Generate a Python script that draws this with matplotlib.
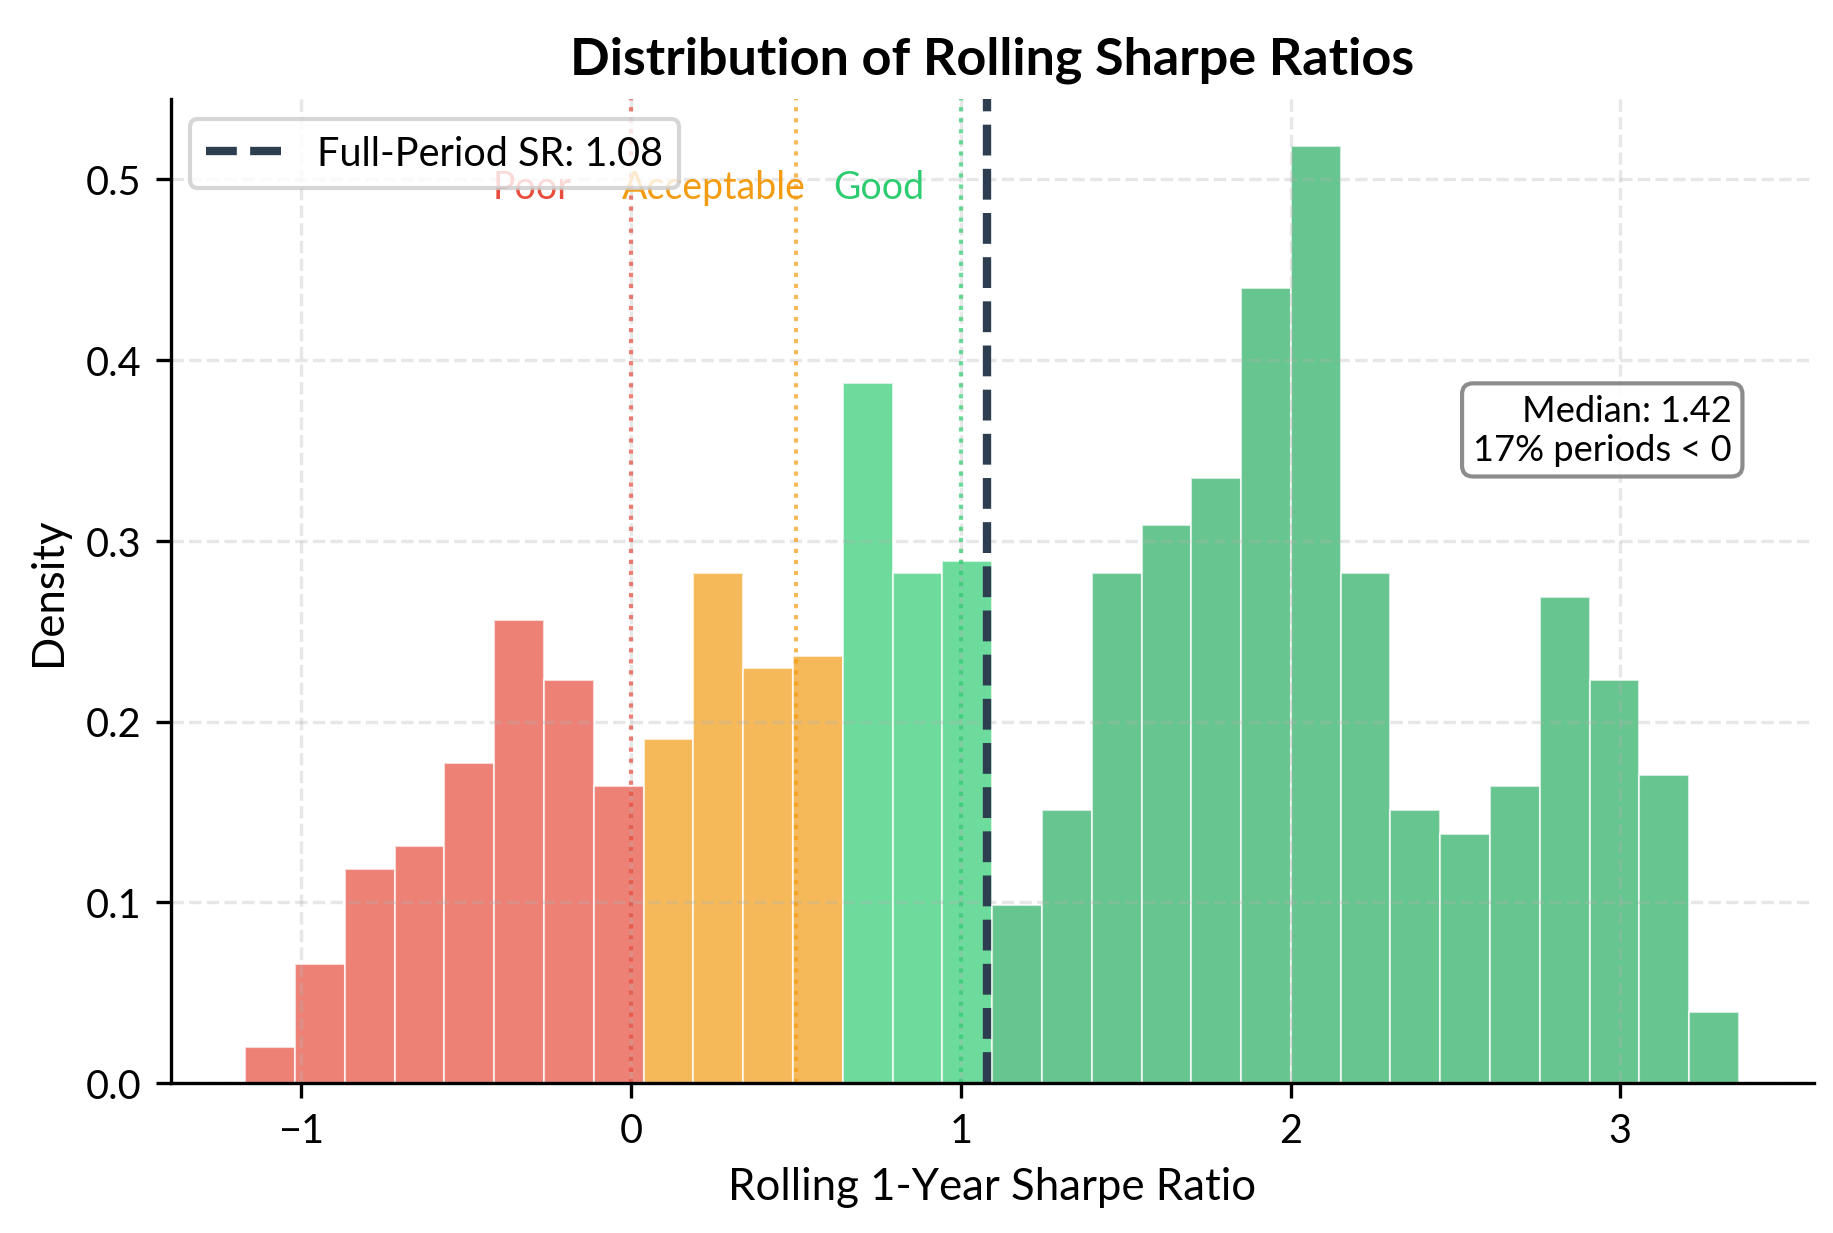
import numpy as np
import matplotlib
matplotlib.use('Agg')
import matplotlib.pyplot as plt

plt.rcParams['font.family'] = ['Lato', 'DejaVu Sans']

# histogram of rolling 1-year Sharpe ratios (counts per bin, 30 bins)
bin_lo = -1.170
bin_hi = 3.360
counts = [3, 10, 18, 20, 27, 39, 34, 25, 29, 43, 35, 36, 59, 43, 44,
          15, 23, 43, 47, 51, 67, 79, 43, 23, 21, 25, 41, 34, 26, 6]

full_period_sr = 1.08
thresholds = [0, 0.5, 1]
threshold_colors = ['#e74c3c', '#f39c12', '#2ecc71']
zone_labels = ['Poor', 'Acceptable', 'Good']
zone_x = [-0.3, 0.25, 0.75]
stats_text = 'Median: 1.42\n17% periods < 0'

edges = np.linspace(bin_lo, bin_hi, len(counts) + 1)
centers = (edges[:-1] + edges[1:]) / 2

fig, ax = plt.subplots(figsize=(6.113, 4.113), dpi=300)

n, bins, patches = ax.hist(centers, bins=edges, weights=counts, density=True,
                           edgecolor='white', linewidth=0.5)

#colour each bar by its left edge
for left, p in zip(bins[:-1], patches):
    if left < 0:
        p.set_facecolor('#e74c3c')
    elif left < 0.5:
        p.set_facecolor('#f39c12')
    elif left < 1:
        p.set_facecolor('#2ecc71')
    else:
        p.set_facecolor('#27ae60')
    p.set_alpha(0.7)

ax.axvline(full_period_sr, color='#2c3e50', linestyle='--', linewidth=2,
           label=f'Full-Period SR: {full_period_sr:.2f}')

for t, c in zip(thresholds, threshold_colors):
    ax.axvline(t, color=c, linestyle=':', linewidth=1, alpha=0.7)

ymax = ax.get_ylim()[1]
for x, lab, c in zip(zone_x, zone_labels, threshold_colors):
    ax.text(x, ymax * 0.91, lab, color=c, ha='center', va='center', fontsize=9)

ax.text(0.95, 0.70, stats_text, transform=ax.transAxes, ha='right', va='top',
        fontsize=8.7, bbox=dict(boxstyle='round', facecolor='white', edgecolor='gray', alpha=0.9))

ax.set_xlabel('Rolling 1-Year Sharpe Ratio', fontsize=10.5)
ax.set_ylabel('Density', fontsize=10.5)
ax.set_title('Distribution of Rolling Sharpe Ratios', fontsize=12.5, fontweight='bold')
ax.tick_params(labelsize=9.5)
ax.legend(loc='upper left', fontsize=9.5)
ax.grid(True, linestyle='--', alpha=0.3)
ax.spines['top'].set_visible(False)
ax.spines['right'].set_visible(False)

plt.subplots_adjust(left=0.093, right=0.989, top=0.919, bottom=0.1216)
plt.savefig('out.png', dpi=300)
